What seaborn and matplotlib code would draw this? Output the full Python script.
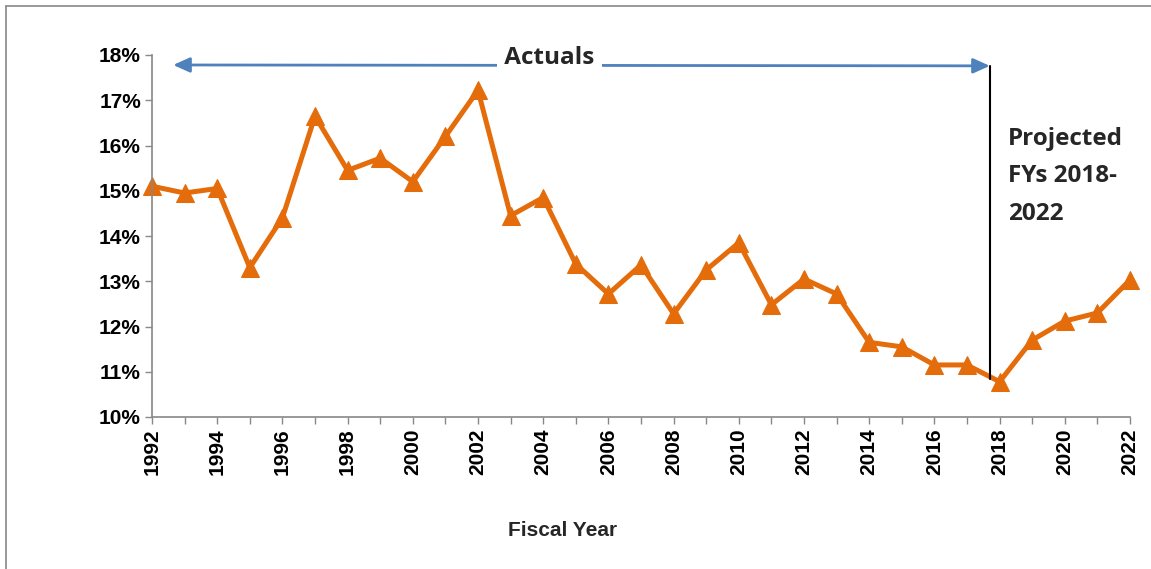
import matplotlib
matplotlib.use("Agg")
import matplotlib.pyplot as plt
import seaborn as sns
import pandas as pd
from matplotlib.lines import Line2D

years = list(range(1992, 2023))
rates = [15.1, 14.95, 15.05, 13.3, 14.4, 16.65, 15.45, 15.72, 15.2, 16.2,
         17.22, 14.45, 14.85, 13.38, 12.72, 13.36, 12.28, 13.25, 13.85, 12.48,
         13.05, 12.72, 11.65, 11.55, 11.15, 11.15, 10.78, 11.7, 12.12, 12.3, 13.03]
ytick_vals = [10, 11, 12, 13, 14, 15, 16, 17, 18]
xtick_vals = list(range(1992, 2023, 2))

df = pd.DataFrame({"year": years, "rate": rates})

sns.set_style("white")
plt.rcParams['font.family'] = ['Liberation Sans', 'DejaVu Sans']

fig = plt.figure(figsize=(11.51, 5.69), dpi=100)
ax = fig.add_axes([152/1151, 1-417/569, (1130-152)/1151, (417-55)/569])

orange = "#E46C0A"
sns.lineplot(data=df, x="year", y="rate", ax=ax, color=orange, linewidth=3.6,
             marker="^", markersize=13, markeredgecolor=orange, markerfacecolor=orange,
             clip_on=False)

ax.set_xlim(1992, 2022)
ax.set_ylim(10, 18)
ax.set_yticks(ytick_vals)
ax.set_yticklabels([f"{v}%" for v in ytick_vals], fontsize=15, fontweight="bold")
ax.set_xticks(years)
ax.set_xticklabels([str(y) if y in xtick_vals else "" for y in years], rotation=90,
                   fontsize=15, fontweight="bold",
                   family=["Liberation Sans Narrow", "Liberation Sans", "DejaVu Sans"])
ax.tick_params(axis="both", direction="out", length=5, color="#888888", width=1,
               bottom=True, left=True, pad=3, labelcolor="black")
for s in ["top", "right"]:
    ax.spines[s].set_visible(False)
for s in ["left", "bottom"]:
    ax.spines[s].set_color("#888888")
    ax.spines[s].set_linewidth(1.2)
ax.set_xlabel("")
ax.set_ylabel("")
ax.set_facecolor("white")

# Actuals arrow
blue = "#4F81BD"
ax.annotate("", xy=(1992.65, 17.78), xytext=(2017.7, 17.76),
            arrowprops=dict(arrowstyle="<|-|>,head_length=1.0,head_width=0.45",
                            color=blue, lw=2, shrinkA=0, shrinkB=0))
ax.text(2004.2, 17.93, " Actuals ", fontsize=17.5, fontweight="bold",
        family=["Open Sans", "DejaVu Sans"], ha="center", va="center",
        bbox=dict(facecolor="white", edgecolor="none", pad=1))
ax.plot([2017.7, 2017.7], [17.76, 10.85], color="black", lw=1.5)

fig.text(1008/1151, 1-127/569, "Projected\nFYs 2018-\n2022", fontsize=17.5,
         fontweight="bold", family=["Open Sans", "DejaVu Sans"], ha="left",
         va="top", linespacing=1.74)

fig.text(563/1151, 1-530/569, "Fiscal Year", fontsize=15, fontweight="bold",
         ha="center", va="center")

# chart border (left & top)
fig.add_artist(Line2D([6/1151, 6/1151], [0, 1-6/569], color="#888888", lw=1.2,
                      transform=fig.transFigure))
fig.add_artist(Line2D([6/1151, 1], [1-6/569, 1-6/569], color="#888888", lw=1.2,
                      transform=fig.transFigure))

fig.savefig("out.png", dpi=100, facecolor="white")
